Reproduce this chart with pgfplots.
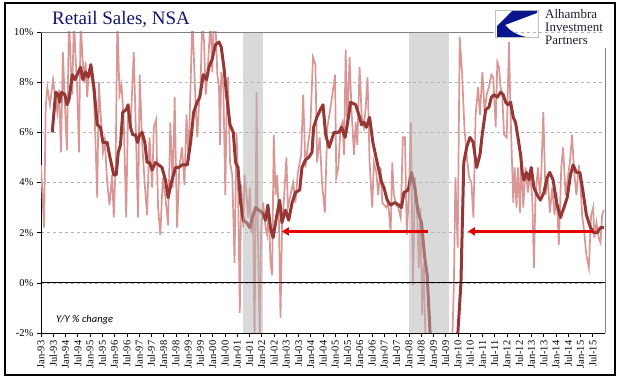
\documentclass[border=0pt]{standalone}
\usepackage{fontspec}
\setmainfont{Liberation Serif}
\newfontfamily\calib{Carlito}
\usepackage{pgfplots}
\pgfplotsset{compat=1.18}
\usetikzlibrary{arrows.meta}
\definecolor{lightln}{RGB}{217,150,148}
\definecolor{darkln}{RGB}{149,55,53}
\definecolor{titleblue}{RGB}{20,20,110}
\definecolor{logoblue}{RGB}{10,20,140}
\definecolor{recgray}{RGB}{180,180,180}
\definecolor{arrowred}{RGB}{230,0,0}

\begin{document}
\begin{tikzpicture}[x=1pt,y=1pt]
\path (0,0) rectangle (629,383);
\begin{axis}[
  at={(41pt,50pt)}, anchor=south west,
  scale only axis, width=564pt, height=301pt,
  xmin=0, xmax=276, ymin=-2, ymax=10,
  axis lines=left, axis line style={-, black, line width=0.8pt},
  xtick={0,6,...,270},
  xticklabels={Jan-93,Jul-93,Jan-94,Jul-94,Jan-95,Jul-95,Jan-96,Jul-96,Jan-97,Jul-97,Jan-98,Jul-98,Jan-99,Jul-99,Jan-00,Jul-00,Jan-01,Jul-01,Jan-02,Jul-02,Jan-03,Jul-03,Jan-04,Jul-04,Jan-05,Jul-05,Jan-06,Jul-06,Jan-07,Jul-07,Jan-08,Jul-08,Jan-09,Jul-09,Jan-10,Jul-10,Jan-11,Jul-11,Jan-12,Jul-12,Jan-13,Jul-13,Jan-14,Jul-14,Jan-15,Jul-15},
  ytick={-2,0,2,4,6,8,10},
  yticklabels={-2\%,0\%,2\%,4\%,6\%,8\%,10\%},
  ymajorgrids, grid style={dashed, gray!60, line width=0.4pt},
  tick align=outside, major tick length=4pt,
  tick style={black, line width=0.6pt},
  xticklabel style={rotate=90, anchor=east, font=\fontsize{10.5}{11}\selectfont},
  yticklabel style={font=\fontsize{10.5}{11}\selectfont},
]
\addplot[lightln, line width=1.7pt, no markers] coordinates {
(0,4.7) (1.5,2.2) (2.3,7.0) (3.1,7.8) (4.4,7.1) (5.9,8.1) (6.8,7.5) (8.0,6.8) (8.8,7.7) (9.8,5.2) (10.7,9.2) (11.7,7.1) (12.7,5.3) (13.7,10.6) (14.6,8.6) (15.3,7.5) (16.1,10.6) (16.9,9.0) (17.7,7.8) (18.6,5.2) (19.4,10.6) (20.2,9.1) (21.2,8.0) (21.8,8.8) (22.6,7.4) (23.4,8.4) (24.7,8.2) (25.9,7.5) (26.7,5.5) (27.5,3.4) (28.3,8.0) (29.3,6.6) (30.3,5.2) (31.2,5.7) (32.4,4.0) (33.5,3.1) (34.8,4.3) (35.6,2.6) (36.5,4.6) (37.4,10.6) (38.4,7.5) (39.4,7.9) (40.5,6.4) (41.7,2.6) (42.6,7.0) (43.8,6.2) (45.4,9.2) (46.5,5.8) (47.5,2.6) (48.3,8.3) (49.5,5.6) (50.8,3.9) (51.9,2.7) (53.1,5.8) (54.4,3.8) (55.2,6.2) (56.3,6.5) (57.3,3.0) (58.4,1.9) (59.6,4.2) (60.9,3.4) (62.2,2.3) (63.3,6.4) (64.5,3.8) (65.4,7.4) (66.6,2.2) (67.7,4.6) (69.0,5.4) (70.2,3.9) (71.2,6.7) (72.2,4.9) (74.1,10.6) (75.7,7.0) (76.5,5.8) (77.3,7.1) (78.1,7.9) (78.9,10.6) (79.8,9.6) (80.6,7.5) (81.4,8.2) (82.2,9.4) (83.0,10.4) (83.8,8.4) (84.6,10.6) (85.4,10.3) (86.3,8.3) (87.1,7.8) (87.6,5.5) (88.2,8.4) (89.2,7.9) (90.2,3.5) (90.8,6.7) (91.5,8.2) (92.5,4.8) (93.6,4.3) (94.7,0.8) (95.7,6.0) (96.4,4.0) (97.3,-1.2) (98.0,3.9) (99.0,2.2) (99.6,4.3) (100.6,3.5) (101.4,2.6) (102.2,3.8) (102.9,2.0) (103.8,2.7) (104.5,-2.4) (105.5,7.6) (106.1,2.2) (107.1,-2.4) (107.7,2.0) (108.7,3.2) (109.9,2.2) (110.7,1.9) (111.5,3.0) (112.3,0.8) (113.1,0.3) (113.9,5.9) (114.8,3.5) (115.6,4.3) (116.4,2.6) (117.2,-1.4) (118.0,2.4) (118.8,3.2) (120.1,5.0) (120.8,3.0) (122.1,3.5) (123.4,4.0) (124.5,3.2) (125.7,4.4) (126.6,4.8) (127.3,5.1) (128.3,7.5) (129.4,4.6) (130.5,5.4) (131.8,6.2) (133.1,9.0) (134.3,8.7) (135.1,4.8) (136.4,5.8) (137.5,4.0) (138.9,2.8)
(140.1,6.2) (141.3,6.8) (142.6,7.5) (143.9,8.3) (144.5,4.2) (145.5,4.6) (146.6,6.2) (147.5,6.4) (148.3,5.1) (149.1,9.3) (149.9,6.2) (151.0,9.0) (152.0,6.8) (153.2,5.1) (154.0,6.4) (154.8,5.5) (155.9,8.6) (156.9,6.7) (158.0,6.2) (158.9,7.0) (159.8,8.2) (160.8,4.8) (162.1,3.0) (162.9,4.8) (164.1,4.4) (165.0,3.5) (166.2,4.6) (167.0,3.2) (168.0,3.1) (169.0,3.0) (169.9,3.2) (171.1,2.0) (171.9,4.8) (172.7,3.5) (173.8,3.1) (174.8,3.0) (176.0,2.6) (177.1,5.8) (178.1,5.8) (179.0,1.9) (180.0,3.5) (181.0,6.4) (182.0,-0.1) (183.0,4.2) (184.1,2.7) (184.9,0.6) (185.7,3.0) (186.5,-1.3) (187.3,0.8) (188.2,-2.5) (190,-4) (193,-8) (196,-10) (199,-6) (201,-3) (202.0,-0.2) (202.8,4.2) (203.9,1.4) (204.9,9.8) (206.1,8.3) (207.2,6.2) (208.3,5.1) (209.5,4.2) (210.6,4.0) (211.6,2.6) (212.7,6.7) (213.9,7.8) (214.8,6.7) (216.0,8.4) (217.1,6.8) (218.1,7.5) (219.2,7.8) (220.4,8.3) (221.3,8.2) (222.5,6.2) (223.3,8.8) (224.1,8.6) (224.9,7.8) (225.7,7.5) (226.6,5.9) (227.9,5.8) (229.0,9.6) (229.8,6.7) (231.1,3.2) (231.8,4.6) (232.7,3.0) (233.4,4.6) (234.4,2.8) (235.0,5.1) (236.0,3.0) (237.1,4.6) (238.3,3.6) (239.3,4.4) (240.4,3.4) (241.2,0.6) (242.0,3.5) (243.2,4.6) (244.1,3.5) (244.8,4.3) (245.8,6.8) (246.9,3.5) (248.0,4.2) (249.0,2.8) (250.2,3.8) (251.3,2.7) (252.3,3.6) (253.4,1.5) (254.6,4.6) (255.5,5.4) (256.7,3.5) (257.8,4.2) (258.8,4.8) (259.9,5.9) (260.7,4.6) (262.0,3.5) (263.2,4.7) (264.0,3.9) (264.8,2.7) (265.6,2.2) (266.9,1.1) (268.1,0.6) (269.2,2.7) (270.2,3.0) (270.8,1.8) (271.8,2.4) (272.9,1.8) (273.8,1.6) (274.6,2.7) (275.4,2.9)
};
\addplot[darkln, line width=3pt, no markers, line join=round] coordinates {
(5.5,6.0) (7.2,7.6) (8.5,7.5) (9.1,7.2) (10.1,7.6) (11.7,7.5) (12.7,7.1) (13.7,7.3) (15.3,8.3) (16.6,8.1) (17.7,8.3) (19.4,8.6) (20.5,8.1) (21.8,8.4) (23.1,8.2) (24.4,8.7) (25.9,7.8) (27.5,6.3) (29.1,6.2) (30.3,5.6) (32.4,5.6) (33.5,5.1) (35.6,4.3) (36.8,4.3) (37.8,5.2) (38.9,5.5) (40.0,6.8) (41.7,6.9) (42.6,7.1) (43.8,6.2) (44.9,5.9) (46.2,5.9) (47.2,5.6) (48.3,5.9) (49.5,6.0) (50.8,5.6) (51.9,4.8) (53.1,4.8) (54.4,4.5) (56.0,4.8) (57.6,4.7) (59.2,4.6) (60.9,4.1) (62.2,3.4) (63.8,4.0) (65.8,4.6) (67.4,4.6) (69.0,4.7) (71.6,4.7) (73.2,5.6) (74.7,6.8) (76.4,7.2) (77.7,7.4) (79.4,8.3) (81.0,8.1) (82.2,8.6) (83.7,8.9) (85.4,9.5) (87.1,9.6) (88.2,9.4) (89.5,8.6) (90.8,7.5) (92.5,6.3) (94.1,6.0) (95.2,4.8) (96.4,4.6) (97.7,3.2) (99.0,2.5) (100.6,2.4) (102.2,2.2) (103.4,2.6) (105.0,3.0) (106.6,2.9) (108.2,2.8) (109.9,2.5) (111.0,3.1) (112.3,2.2) (113.6,1.8) (115.2,2.6) (116.8,3.3) (117.9,2.4) (119.6,2.9) (121.2,2.5) (122.9,3.2) (124.5,3.6) (126.6,3.7) (127.7,4.6) (129.4,4.9) (131.0,5.0) (132.6,5.2) (133.4,6.2) (135.0,6.6) (136.7,6.9) (138.0,7.1) (139.3,5.9) (141.0,5.4) (143.4,6.0) (145.8,6.0) (147.1,6.2) (148.8,5.8) (149.9,6.3) (151.5,7.2) (154.0,7.1) (155.9,6.6) (156.9,6.3) (158.0,6.4) (159.2,6.2) (160.8,6.6) (162.4,5.6) (164.5,4.8) (166.7,4.0) (167.8,3.8) (169.4,3.3) (171.0,3.1) (173.2,3.2) (175.1,3.1) (176.4,3.0) (177.6,3.6) (179.7,3.7) (181.3,4.4) (182.9,3.8) (184.6,2.8) (186.2,2.4) (187.8,1.0) (189.0,0.3) (190.4,-2.0) (192,-5) (195,-8) (198,-8) (201,-5) (204.0,-2.0) (205.5,0.0) (206.9,4.8) (208.3,5.4) (209.9,5.8) (211.5,5.6) (213.2,4.6) (214.8,5.1) (215.9,5.9) (217.6,6.9) (219.2,7.0) (220.4,7.4) (221.7,7.5) (223.3,7.4) (224.9,7.6) (226.2,7.5) (227.4,7.2) (228.5,7.1) (229.8,7.2) (231.1,6.6) (232.2,6.4) (233.4,5.8) (234.7,5.1) (235.5,4.4) (236.3,4.1) (237.6,4.4) (238.8,4.1) (239.9,4.6) (241.2,3.8) (242.8,3.5) (244.4,3.3) (246.1,3.6) (247.7,4.2) (249.0,4.4) (250.6,4.1) (252.3,3.2) (254.2,2.6) (255.9,3.0) (257.5,3.4) (259.1,4.3) (260.4,4.7) (262.0,4.4) (263.7,4.4) (265.3,3.6) (266.9,2.7) (268.9,2.2) (270.5,2.0) (272.1,2.0) (273.8,2.2) (275.4,2.2)
};
\fill[recgray, fill opacity=0.5] (axis cs:99,-2) rectangle (axis cs:108.4,10);
\fill[recgray, fill opacity=0.5] (axis cs:180,-2) rectangle (axis cs:199.7,10);
\addplot[black, line width=0.8pt, no markers] coordinates {(0,0) (276,0)};
\addplot[arrowred, line width=2.6pt, no markers, -{Triangle[length=7pt,width=8pt]}] coordinates {(189.3,2.05) (117.9,2.05)};
\addplot[arrowred, line width=2.6pt, no markers, -{Triangle[length=7pt,width=8pt]}] coordinates {(270,2.05) (208.9,2.05)};
\end{axis}
% top and right gray border of plot area
\draw[gray, line width=0.8pt] (41,351) -- (493,351);
\draw[gray, line width=0.8pt] (605,50) -- (605,335);
% outer frame
\draw[black, line width=1.2pt] (5,8) rectangle (615,380);
% title
\node[anchor=base west, inner sep=0, font=\fontsize{19}{19}\selectfont, text=titleblue] at (52,358) {Retail Sales, NSA};
% note
\node[anchor=base west, inner sep=0, font=\calib\itshape\fontsize{10.5}{10.5}\selectfont] at (56,61) {Y/Y \% change};
% logo
\draw[gray!50, line width=0.5pt] (495,373) rectangle (538,346);
\fill[logoblue] (512,372) -- (537,372) -- (537,370) -- (505,358) .. controls (510,352) and (517,348) .. (526,346) -- (497,346) -- (497,357) -- cycle;
\node[anchor=base west, inner sep=0, font=\fontsize{13}{13}\selectfont, text={rgb,255:red,30;green,30;blue,50}] at (545,364) {Alhambra};
\node[anchor=base west, inner sep=0, font=\fontsize{13}{13}\selectfont, text={rgb,255:red,30;green,30;blue,50}] at (545,351) {Investment};
\node[anchor=base west, inner sep=0, font=\fontsize{13}{13}\selectfont, text={rgb,255:red,30;green,30;blue,50}] at (545,338) {Partners};
\end{tikzpicture}
\end{document}
